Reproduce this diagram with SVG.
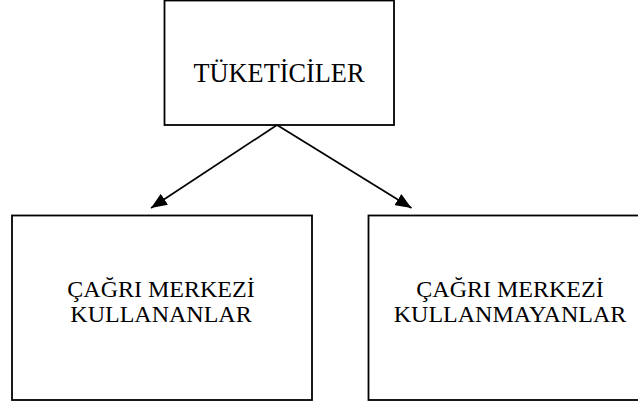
<svg xmlns="http://www.w3.org/2000/svg" width="638" height="405" viewBox="0 0 638 405">
  <style>
    .box { fill: #ffffff; stroke: #000000; stroke-width: 1.8; }
    .lbl { font-family: "Liberation Serif", "Times New Roman", serif; fill: #000000; text-anchor: middle; }
    .conn { stroke: #000000; stroke-width: 1.7; fill: none; }
  </style>
  <defs>
    <marker id="arrow" markerUnits="userSpaceOnUse" markerWidth="17" markerHeight="13" refX="16" refY="6.5" orient="auto">
      <path d="M0,0 L16,6.5 L0,13 Z" fill="#000000"/>
    </marker>
  </defs>
  <rect width="638" height="405" fill="#ffffff"/>
  <g id="node-tuketiciler">
    <rect class="box" x="164.5" y="0.5" width="229.5" height="124.5"/>
    <text class="lbl" x="279" y="82" font-size="26.3">TÜKETİCİLER</text>
  </g>
  <g id="node-kullananlar">
    <rect class="box" x="12" y="215.5" width="300" height="184.5"/>
    <text class="lbl" x="161" y="297" font-size="24">ÇAĞRI MERKEZİ</text>
    <text class="lbl" x="161" y="322" font-size="24">KULLANANLAR</text>
  </g>
  <g id="node-kullanmayanlar">
    <rect class="box" x="368.5" y="215.5" width="284" height="184.5"/>
    <text class="lbl" x="510" y="297" font-size="24">ÇAĞRI MERKEZİ</text>
    <text class="lbl" x="510" y="322" font-size="24">KULLANMAYANLAR</text>
  </g>
  <g id="connectors">
    <line class="conn" x1="277" y1="125" x2="151" y2="208" marker-end="url(#arrow)"/>
    <line class="conn" x1="277" y1="125" x2="411.5" y2="208" marker-end="url(#arrow)"/>
  </g>
</svg>
